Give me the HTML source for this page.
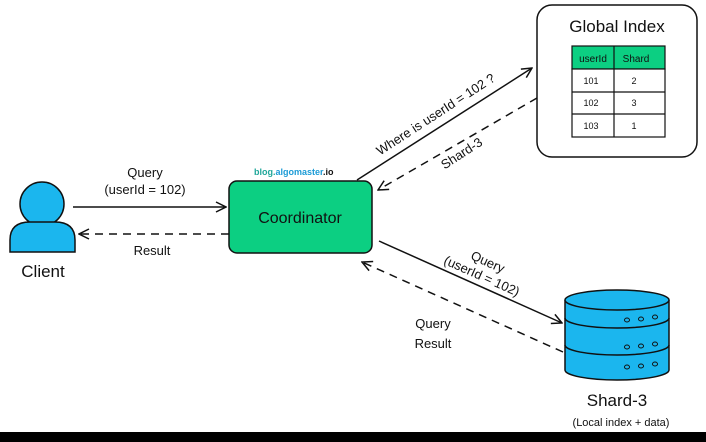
<!DOCTYPE html>
<html><head><style>
html,body{margin:0;padding:0;background:#fff;}
svg{display:block;}
text{font-family:"Liberation Sans","DejaVu Sans",sans-serif;fill:#111;}
</style></head><body>
<svg width="706" height="442" viewBox="0 0 706 442" xmlns="http://www.w3.org/2000/svg">
<rect x="0" y="0" width="706" height="442" fill="#fff"/>
<rect x="0" y="432" width="706" height="10" fill="#000"/>
<defs>
<marker id="a" viewBox="0 0 12 12" refX="11" refY="6" markerWidth="12" markerHeight="12" markerUnits="userSpaceOnUse" orient="auto"><path d="M1,1 L11,6 L1,11" fill="none" stroke="#111" stroke-width="1.5"/></marker>
</defs>
<!-- client -->
<circle cx="42" cy="204" r="22" fill="#1bb6ee" stroke="#111" stroke-width="1.5"/>
<path d="M10,252 L10,240 Q10,222 30,222 L55,222 Q75,222 75,240 L75,252 Z" fill="#1bb6ee" stroke="#111" stroke-width="1.5"/>
<text x="43" y="277" font-size="17" text-anchor="middle">Client</text>
<!-- client arrows -->
<line x1="73" y1="207" x2="226" y2="207" stroke="#111" stroke-width="1.5" marker-end="url(#a)"/>
<line x1="229" y1="234" x2="79" y2="234" stroke="#111" stroke-width="1.5" stroke-dasharray="8,6" marker-end="url(#a)"/>
<text x="145" y="177" font-size="13" text-anchor="middle">Query</text>
<text x="145" y="194" font-size="13" text-anchor="middle">(userId = 102)</text>
<text x="152" y="255" font-size="13" text-anchor="middle">Result</text>
<!-- coordinator -->
<rect x="229" y="181" width="143" height="72" rx="8" fill="#0ccf82" stroke="#111" stroke-width="1.5"/>
<text x="300" y="223" font-size="16" text-anchor="middle">Coordinator</text>
<text x="254" y="175" font-size="9" font-weight="bold"><tspan fill="#20a79a">blog.</tspan><tspan fill="#1b9bd6">algomaster</tspan><tspan fill="#111">.io</tspan></text>
<!-- global index -->
<rect x="537" y="5" width="160" height="152" rx="15" fill="#fff" stroke="#111" stroke-width="1.5"/>
<text x="617" y="32" font-size="17" text-anchor="middle">Global Index</text>
<rect x="572" y="46" width="93" height="23" fill="#0ccf82" stroke="#111" stroke-width="1.2"/>
<rect x="572" y="69" width="93" height="68" fill="#fff" stroke="#111" stroke-width="1.2"/>
<line x1="614" y1="46" x2="614" y2="137" stroke="#111" stroke-width="1.2"/>
<line x1="572" y1="92" x2="665" y2="92" stroke="#111" stroke-width="1.2"/>
<line x1="572" y1="114" x2="665" y2="114" stroke="#111" stroke-width="1.2"/>
<text x="593" y="62" font-size="10" text-anchor="middle">userId</text>
<text x="636" y="62" font-size="10" text-anchor="middle">Shard</text>
<text x="591" y="84" font-size="9" text-anchor="middle">101</text><text x="634" y="84" font-size="9" text-anchor="middle">2</text>
<text x="591" y="106" font-size="9" text-anchor="middle">102</text><text x="634" y="106" font-size="9" text-anchor="middle">3</text>
<text x="591" y="129" font-size="9" text-anchor="middle">103</text><text x="634" y="129" font-size="9" text-anchor="middle">1</text>
<!-- arrows to global -->
<line x1="357" y1="180" x2="532" y2="68" stroke="#111" stroke-width="1.5" marker-end="url(#a)"/>
<line x1="537" y1="98" x2="378" y2="190" stroke="#111" stroke-width="1.5" stroke-dasharray="8,6" marker-end="url(#a)"/>
<text transform="translate(438,118) rotate(-33)" font-size="13" text-anchor="middle">Where is userId = 102 ?</text>
<text transform="translate(464,157) rotate(-33)" font-size="13" text-anchor="middle">Shard-3</text>
<!-- arrows to shard -->
<line x1="379" y1="241" x2="562" y2="323" stroke="#111" stroke-width="1.5" marker-end="url(#a)"/>
<line x1="563" y1="352" x2="362" y2="262" stroke="#111" stroke-width="1.5" stroke-dasharray="8,6" marker-end="url(#a)"/>
<text transform="translate(486,266) rotate(24)" font-size="13" text-anchor="middle">Query</text>
<text transform="translate(480,280) rotate(24)" font-size="13" text-anchor="middle">(userId = 102)</text>
<text x="433" y="328" font-size="13" text-anchor="middle">Query</text>
<text x="433" y="348" font-size="13" text-anchor="middle">Result</text>
<!-- cylinder -->
<path d="M565,300 L565,370 A52,10 0 0 0 669,370 L669,300" fill="#1bb6ee" stroke="#111" stroke-width="1.5"/>
<ellipse cx="617" cy="300" rx="52" ry="10" fill="#1bb6ee" stroke="#111" stroke-width="1.5"/>
<path d="M565,318 A52,10 0 0 0 669,318" fill="none" stroke="#111" stroke-width="1.5"/>
<path d="M565,345 A52,10 0 0 0 669,345" fill="none" stroke="#111" stroke-width="1.5"/>
<g fill="none" stroke="#111" stroke-width="1">
<ellipse cx="627" cy="320" rx="2.5" ry="2"/><ellipse cx="641" cy="319" rx="2.5" ry="2"/><ellipse cx="655" cy="317" rx="2.5" ry="2"/>
<ellipse cx="627" cy="347" rx="2.5" ry="2"/><ellipse cx="641" cy="346" rx="2.5" ry="2"/><ellipse cx="655" cy="344" rx="2.5" ry="2"/>
<ellipse cx="627" cy="367" rx="2.5" ry="2"/><ellipse cx="641" cy="366" rx="2.5" ry="2"/><ellipse cx="655" cy="364" rx="2.5" ry="2"/>
</g>
<text x="617" y="406" font-size="17" text-anchor="middle">Shard-3</text>
<text x="621" y="426" font-size="11" text-anchor="middle">(Local index + data)</text>
</svg>
</body></html>
